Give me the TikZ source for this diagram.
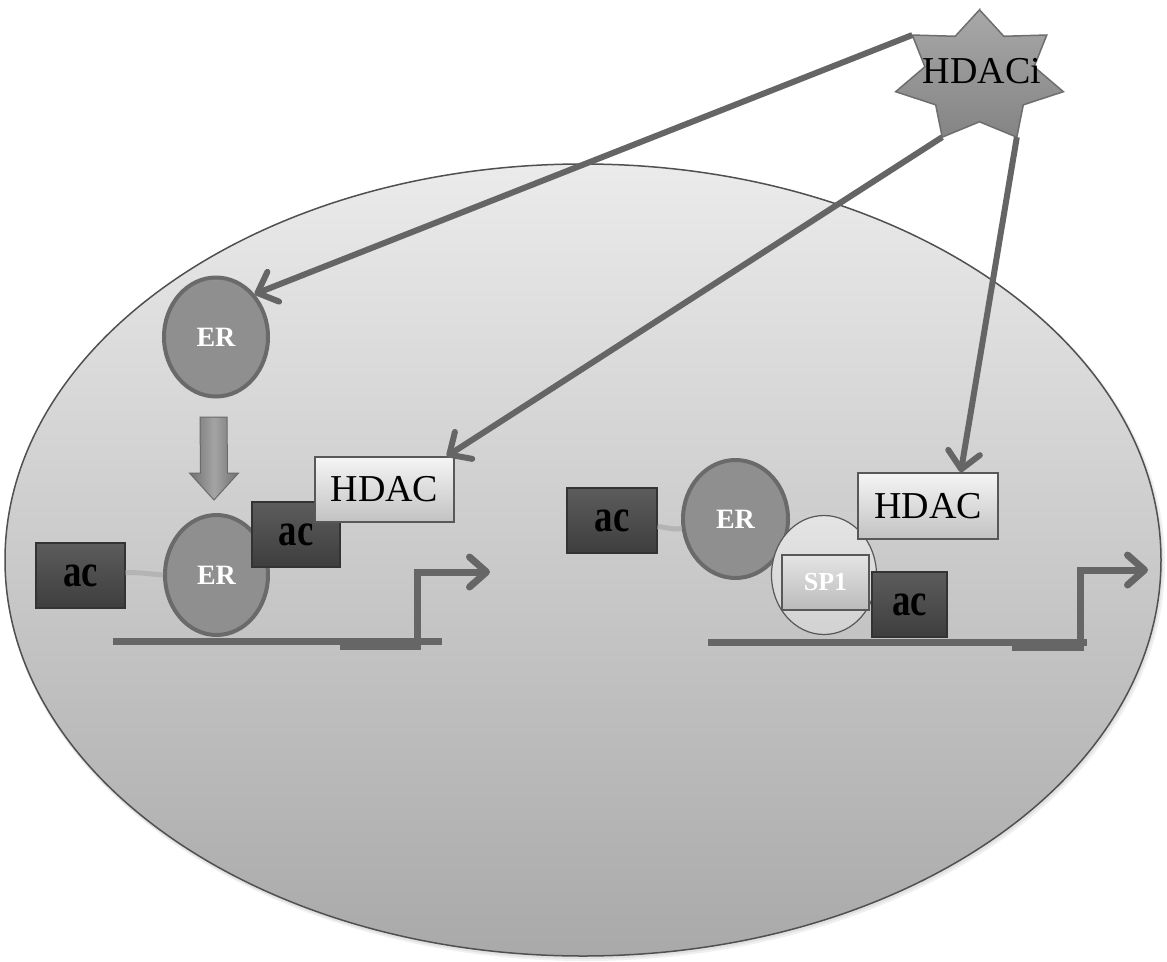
\documentclass[tikz,border=0pt]{standalone}
\usepackage{fontspec}
\setmainfont{Liberation Serif}
\usepackage{graphicx}
\usetikzlibrary{shapes.geometric,arrows.meta,calc}

\definecolor{cellTop}{HTML}{EBEBEB}
\definecolor{cellBot}{HTML}{A9A9A9}
\definecolor{cellLine}{HTML}{505050}
\definecolor{erFill}{HTML}{8F8F8F}
\definecolor{erLine}{HTML}{6A6A6A}
\definecolor{acTop}{HTML}{5C5C5C}
\definecolor{acBot}{HTML}{3E3E3E}
\definecolor{acLine}{HTML}{333333}
\definecolor{hdTop}{HTML}{F5F5F5}
\definecolor{hdBot}{HTML}{C2C2C2}
\definecolor{hdLine}{HTML}{585858}
\definecolor{arrGray}{HTML}{656565}
\definecolor{dnaGray}{HTML}{666666}
\definecolor{linkGray}{HTML}{B4B4B4}
\definecolor{starTop}{HTML}{A8A8A8}
\definecolor{starBot}{HTML}{848484}
\definecolor{starLine}{HTML}{6E6E6E}
\definecolor{spTop}{HTML}{E4E4E4}
\definecolor{spBot}{HTML}{BBBBBB}
\definecolor{spEll}{HTML}{D2D2D2}
\definecolor{blkL}{HTML}{707070}
\definecolor{blkM}{HTML}{A4A4A4}

\newcommand\actxt{\scalebox{0.8}[1]{ac}}

\tikzset{
  cellshape/.style={draw=cellLine, line width=1.5pt, top color=cellTop, bottom color=cellBot},
  erball/.style={ellipse, draw=erLine, line width=4pt, fill=erFill, text=white,
    font=\fontsize{28}{28}\selectfont\bfseries, inner sep=0pt},
  acbox/.style={rectangle, draw=acLine, line width=1.2pt, top color=acTop, bottom color=acBot,
    text=black, font=\fontsize{46}{46}\selectfont\bfseries, inner sep=0pt, minimum height=65pt},
  hdacbox/.style={rectangle, draw=hdLine, line width=1.5pt, top color=hdTop, bottom color=hdBot,
    font=\fontsize{38}{38}\selectfont, minimum width=139pt, minimum height=65pt, inner sep=0pt},
  spell/.style={ellipse, draw=hdLine, line width=1.2pt, top color=spEll!60!white, bottom color=spEll,
    minimum width=105pt, minimum height=119pt, inner sep=0pt},
  spbox/.style={rectangle, draw=hdLine, line width=1.2pt, top color=spTop, bottom color=spBot,
    text=white, font=\fontsize{26}{26}\selectfont\bfseries, minimum width=87pt, minimum height=55pt, inner sep=0pt},
  starshape/.style={draw=starLine, line width=1.5pt, top color=starTop, bottom color=starBot, line join=miter},
  inhib/.style={draw=arrGray, line width=6pt, -{Straight Barb[length=17pt,width=32pt,round]}},
  dna/.style={draw=dnaGray, line width=7pt},
  promoter/.style={draw=dnaGray, line width=7pt, -{Straight Barb[length=17pt,width=30pt,round]}},
  link/.style={draw=linkGray, line width=5pt},
  blockarrow/.style={draw=erLine, line width=1pt, left color=blkL, right color=blkL, middle color=blkM, line join=miter},
}

\begin{document}
\begin{tikzpicture}[x=1pt,y=1pt]
\useasboundingbox (0,0) rectangle (1167,-961);
\fill[white] (0,0) rectangle (1167,-961);

% cell with soft shadow
\fill[black, opacity=0.06] (585,-563) ellipse [x radius=580pt, y radius=398pt];
\fill[black, opacity=0.06] (584,-562) ellipse [x radius=579pt, y radius=397pt];
\path[cellshape] (583,-560) ellipse [x radius=578pt, y radius=396pt];

% left complex
\node[erball, minimum width=104pt, minimum height=119pt] (erA) at (216,-337) {ER};
\node[erball, minimum width=103pt, minimum height=120pt] (erB) at (216.5,-575) {ER};
\coordinate (bTop) at ($(erA.south)+(-2.5,-18.5)$);
\coordinate (bTip) at ($(erB.north)+(-2.5,13)$);
\path[blockarrow] ($(bTop)+(-13.5,0)$) -- ($(bTop)+(13.5,0)$) -- ($(bTip)+(13.5,27)$) -- ($(bTip)+(24.5,27)$)
  -- (bTip) -- ($(bTip)+(-24.5,27)$) -- ($(bTip)+(-13.5,27)$) -- cycle;
\node[acbox, minimum width=89pt] (acL) at (80.5,-575.5) {\actxt};
\node[acbox, minimum width=88pt] (acU) at (296,-534.5) {\actxt};
\node[hdacbox] (hdacL) at (384.5,-489.5) {HDAC};
\draw[link] ([yshift=3pt]acL.east) to[out=0,in=175] (erB.west);

\draw[dna] (113,-641) -- (442,-641);
\draw[promoter] (340,-646) -- (417,-646) -- (417,-572) -- (490,-572);

% right complex
\node[acbox, minimum width=90pt] (acR) at (612,-520.5) {\actxt};
\node[erball, minimum width=105pt, minimum height=118pt] (erC) at (735.5,-519) {ER};
\draw[link] ([yshift=-6pt]acR.east) to[out=-5,in=190] (erC.190);
\node[spell] (spE) at (824,-575) {};
\node[spbox] (sp1) at (825.5,-582.5) {SP1};
\node[acbox, minimum width=75pt] (acS) at (909.5,-604.5) {\actxt};
\node[hdacbox, minimum width=140pt, minimum height=66pt] (hdacR) at (928,-506) {HDAC};

\draw[dna] (708,-642) -- (1087,-642);
\draw[promoter] (1012,-647) -- (1080,-647) -- (1080,-570) -- (1148,-570);

% HDACi star
\begin{scope}[shift={(979.5,-76.8)}]
\path[starshape] (90:86pt and 67pt)
  \foreach \i [evaluate=\i as \a using 90+\i*51.4286, evaluate=\i as \b using 64.2857+\i*51.4286] in {1,...,7}
  { -- (\b:56pt and 45pt) -- (\a:86pt and 67pt) } -- cycle;
\end{scope}
\node[font=\fontsize{38}{38}\selectfont, inner sep=0pt] (hdaci) at (982,-71) {HDACi};
\coordinate (tipUL) at ($(979.5,-76.8)+(141.43:86pt and 67pt)$);
\coordinate (tipBL) at ($(979.5,-76.8)+(244.29:86pt and 67pt)$);
\coordinate (tipBR) at ($(979.5,-76.8)+(295.71:86pt and 67pt)$);

% inhibitor arrows
\draw[inhib] (tipUL) -- (erA.48);
\draw[inhib] (tipBL) -- ([xshift=-8pt]hdacL.north east);
\draw[inhib] (tipBR) -- ([xshift=-38pt]hdacR.north east);
\end{tikzpicture}
\end{document}
